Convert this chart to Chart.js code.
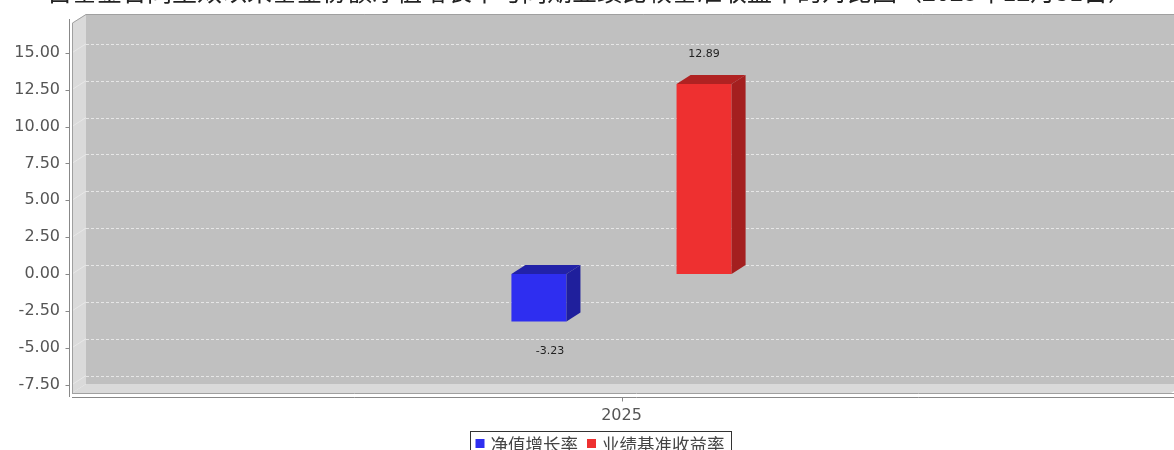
<!DOCTYPE html>
<html lang="zh-CN">
<head>
<meta charset="UTF-8">
<title>净值增长率与业绩基准收益率</title>
<script src="https://cdn.jsdelivr.net/npm/chart.js@4.4.1/dist/chart.umd.min.js"></script>
<style>
    html, body { margin: 0; padding: 0; background: #fff; overflow: hidden; width: 1174px; height: 450px; }
    /* the chart is a bit bigger than the window: title and legend are cut like in the source picture */
    .chart-box { position: absolute; left: 0; top: -30px; width: 1200px; height: 500px; }
</style>
</head>
<body>
<div class="chart-box"><canvas id="perfChart"></canvas></div>
<script>
    // --- DATA ---
    const categories = ['2025'];
    const navGrowth = [-3.23];
    const benchmarkReturn = [12.89];
    const seriesNames = ['净值增长率', '业绩基准收益率'];
    const yTicks = [-7.5, -5, -2.5, 0, 2.5, 5, 7.5, 10, 12.5, 15];
    const titleText = '自基金合同生效以来基金份额净值增长率与同期业绩比较基准收益率的对比图（2025年12月31日）';

    // --- LOOK ---
    const OFF = 30;          // canvas shift upwards
    const DX = 14, DY = 9;   // 3D depth
    const FONT = '"DejaVu Sans", sans-serif';
    const CJK = '"Noto Sans CJK SC", sans-serif';

    function poly(ctx, pts, fill) {
        ctx.beginPath();
        ctx.moveTo(pts[0][0], pts[0][1]);
        for (let i = 1; i < pts.length; i++) ctx.lineTo(pts[i][0], pts[i][1]);
        ctx.closePath();
        ctx.fillStyle = fill;
        ctx.fill();
    }
    function line(ctx, x1, y1, x2, y2) {
        ctx.beginPath();
        ctx.moveTo(x1, y1);
        ctx.lineTo(x2, y2);
        ctx.stroke();
    }

    // walls, floor, grid and axes of the 3D plot
    const plot3d = {
        id: 'plot3d',
        beforeDatasetsDraw(chart) {
            const { ctx, chartArea: a, scales } = chart;
            const L = a.left, R = a.right, T = a.top, B = a.bottom;
            ctx.save();
            ctx.fillStyle = '#c0c0c0';
            ctx.fillRect(L + DX, T - DY, R - L, B - T);
            poly(ctx, [[L, T], [L + DX, T - DY], [L + DX, B - DY], [L, B]], '#dadada');
            poly(ctx, [[L, B], [L + DX, B - DY], [R + DX, B - DY], [R, B]], '#dadada');

            ctx.lineWidth = 1;
            ctx.setLineDash([3, 2]);
            ctx.strokeStyle = 'rgba(255,255,255,0.6)';
            yTicks.forEach(v => {
                const py = Math.round(scales.y.getPixelForValue(v) - DY) + 0.5;
                line(ctx, L + DX, py, R + DX, py);
            });
            ctx.setLineDash([]);
            ctx.strokeStyle = 'rgba(255,255,255,0.35)';
            yTicks.forEach(v => {
                const py = scales.y.getPixelForValue(v);
                line(ctx, L, py, L + DX, py - DY);
            });

            // wall outline
            ctx.strokeStyle = '#a0a0a0';
            ctx.beginPath();
            ctx.moveTo(L + 0.5, B);
            ctx.lineTo(L + 0.5, T);
            ctx.lineTo(L + DX, T - DY + 0.5);
            ctx.lineTo(R + DX + 20, T - DY + 0.5);
            ctx.stroke();
            line(ctx, L, B + 0.5, R + DX + 20, B + 0.5);

            // axes
            ctx.strokeStyle = '#888';
            const ax = L - 2.5;
            line(ctx, ax, T - 4, ax, B + 4);
            yTicks.forEach(v => {
                const py = Math.round(scales.y.getPixelForValue(v)) + 0.5;
                line(ctx, ax - 4, py, ax, py);
            });
            const ay = B + 4.5;
            line(ctx, L, ay, R + DX + 20, ay);
            categories.forEach((c, i) => {
                const px = Math.round(scales.x.getPixelForValue(i)) + 0.5;
                line(ctx, px, ay, px, ay + 4);
            });
            ctx.restore();
        },
        afterDatasetsDraw(chart) {
            const ctx = chart.ctx;
            ctx.save();
            chart.data.datasets.forEach((ds, i) => {
                chart.getDatasetMeta(i).data.forEach((bar, j) => {
                    const p = bar.getProps(['x', 'y', 'base', 'width'], true);
                    const left = p.x - p.width / 2, right = p.x + p.width / 2;
                    const top = Math.min(p.y, p.base), bottom = Math.max(p.y, p.base);
                    poly(ctx, [[left, top], [left + DX, top - DY], [right + DX, top - DY], [right, top]], ds.topColor);
                    poly(ctx, [[right, top], [right + DX, top - DY], [right + DX, bottom - DY], [right, bottom]], ds.sideColor);

                    const v = ds.data[j];
                    ctx.font = '11px ' + FONT;
                    ctx.fillStyle = '#222';
                    ctx.textAlign = 'center';
                    ctx.textBaseline = 'middle';
                    const lx = v < 0 ? p.x + 11 : p.x;
                    const ly = v < 0 ? p.y + 30 : p.y - 30;
                    ctx.fillText(v.toFixed(2), lx, ly);
                });
            });
            ctx.restore();
        },
        afterDraw(chart) {
            const ctx = chart.ctx;
            ctx.save();
            // title (mostly above the window)
            ctx.font = '25px ' + CJK;
            ctx.fillStyle = '#222';
            ctx.textAlign = 'center';
            ctx.textBaseline = 'alphabetic';
            ctx.fillText(titleText, 590, OFF + 1);

            // legend with a box round it
            ctx.font = '17.5px ' + CJK;
            const items = chart.data.datasets.map(ds => ({ text: ds.label, color: ds.backgroundColor, w: ctx.measureText(ds.label).width }));
            let total = 5 + 7;
            items.forEach((it, k) => { total += 9 + 6 + it.w + (k < items.length - 1 ? 9 : 0); });
            const bx = Math.round(600 - total / 2) + 0.5, by = OFF + 431.5;
            ctx.strokeStyle = '#333';
            ctx.lineWidth = 1;
            ctx.strokeRect(bx, by, Math.round(total), 30);
            let x = bx + 5;
            ctx.textAlign = 'left';
            ctx.textBaseline = 'middle';
            items.forEach(it => {
                ctx.fillStyle = it.color;
                ctx.fillRect(x, OFF + 439, 9, 9);
                x += 9 + 6;
                ctx.fillStyle = '#444';
                ctx.fillText(it.text, x, OFF + 444);
                x += it.w + 9;
            });
            ctx.restore();
        }
    };

    const ctx = document.getElementById('perfChart').getContext('2d');
    new Chart(ctx, {
        type: 'bar',
        data: {
            labels: categories,
            datasets: [
                {
                    label: seriesNames[0],
                    data: navGrowth,
                    backgroundColor: '#2e2ef0',
                    topColor: '#2222a8',
                    sideColor: '#1f1f9c',
                    borderWidth: 0
                },
                {
                    label: seriesNames[1],
                    data: benchmarkReturn,
                    backgroundColor: '#ee3030',
                    topColor: '#b02222',
                    sideColor: '#a41f1f',
                    borderWidth: 0
                }
            ]
        },
        options: {
            responsive: true,
            maintainAspectRatio: false,
            animation: false,
            categoryPercentage: 0.3005,
            barPercentage: 0.3333,
            layout: { padding: { top: 53, right: 29, left: 0, bottom: 0 } },
            plugins: {
                legend: { display: false },
                title: { display: false },
                tooltip: { enabled: false }
            },
            scales: {
                x: {
                    grid: { display: false },
                    border: { display: false },
                    ticks: { font: { family: 'DejaVu Sans', size: 16 }, color: '#555', padding: 5 },
                    afterFit: s => { s.height = 77; }
                },
                y: {
                    min: -8.07,
                    max: 17.02,
                    grid: { display: false },
                    border: { display: false },
                    ticks: {
                        font: { family: 'DejaVu Sans', size: 16 },
                        color: '#555',
                        padding: 4,
                        callback: v => Number(v).toFixed(2)
                    },
                    afterBuildTicks: s => { s.ticks = yTicks.map(v => ({ value: v })); },
                    afterFit: s => { s.width = 72; }
                }
            }
        },
        plugins: [plot3d]
    });
</script>
</body>
</html>
